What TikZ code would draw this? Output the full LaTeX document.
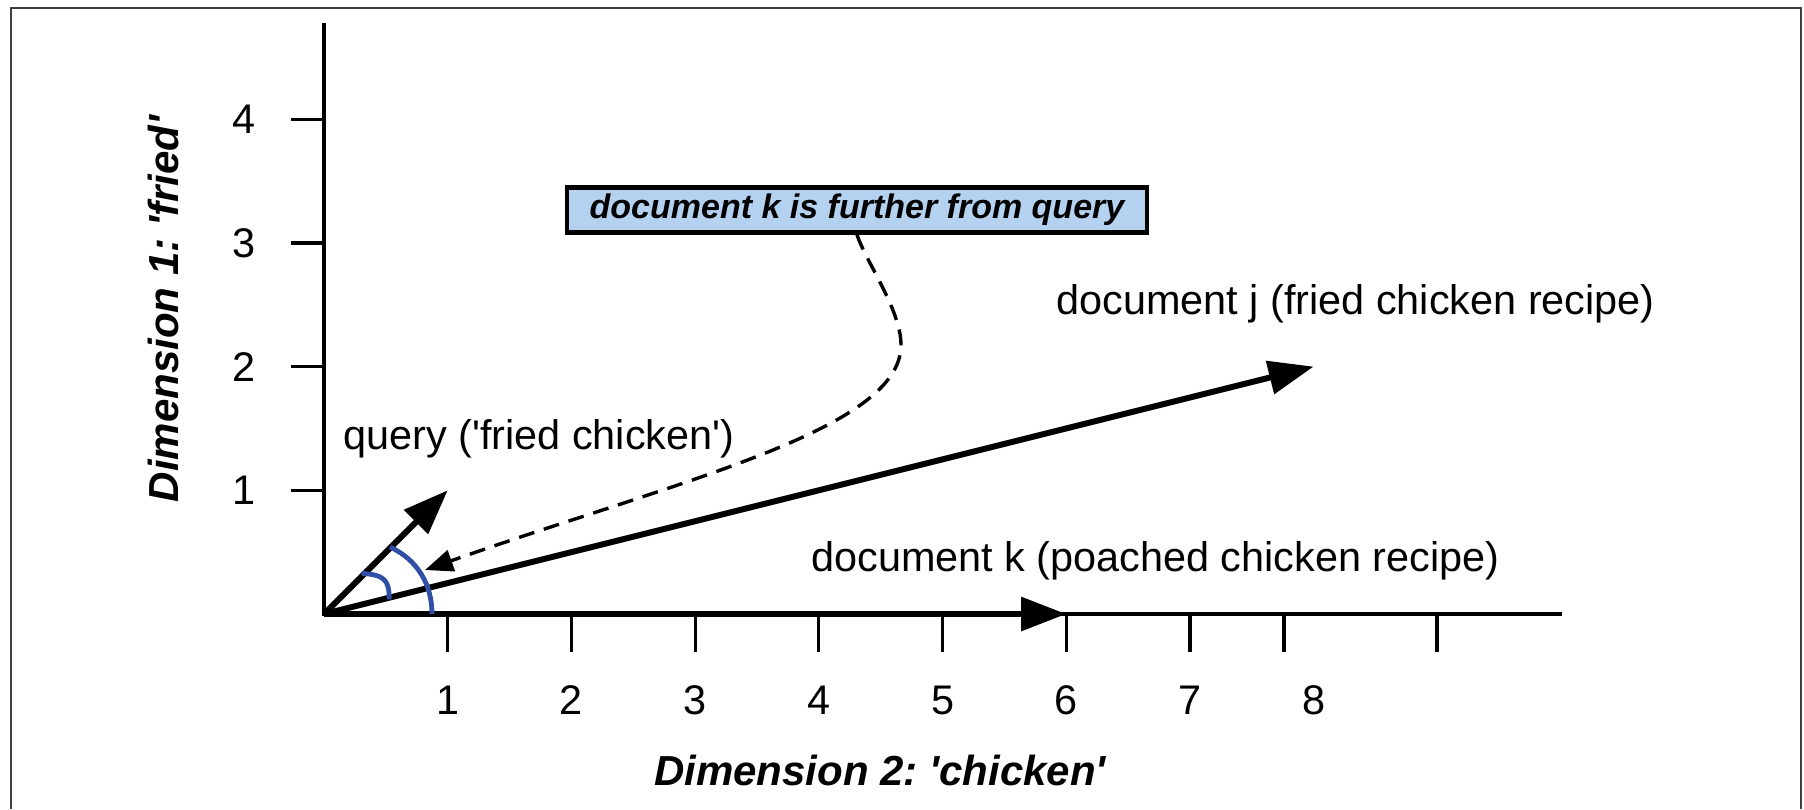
\documentclass[tikz,border=0pt]{standalone}
\usepackage{fontspec}
\setmainfont{Liberation Sans}[Ligatures=TeXOff]
\usetikzlibrary{arrows.meta}
\definecolor{boxblue}{RGB}{180,210,240}
\definecolor{arcblue}{RGB}{48,80,168}
\definecolor{framegray}{RGB}{64,64,64}
\begin{document}
\frenchspacing
\begin{tikzpicture}[x=0.5pt,y=-0.5pt,
  lbl/.style={font=\fontsize{20.7}{24}\selectfont, inner sep=0pt},
  axisline/.style={line width=2.3pt},
  vec/.style={line width=3pt, -{Triangle[length=22.5pt,width=16.5pt]}},
  tickline/.style={line width=1.6pt},
  angarc/.style={arcblue, line width=2.4pt},
  notebox/.style={draw, line width=2.2pt, fill=boxblue, font=\fontsize{17}{20}\selectfont\bfseries\itshape, minimum width=290pt, minimum height=22.5pt, inner sep=0pt},
  dimlbl/.style={font=\fontsize{21}{24}\selectfont\bfseries\itshape, inner sep=0pt},
  pointer/.style={line width=1.7pt, dash pattern=on 8pt off 5pt, -{Triangle[length=14pt,width=11pt]}}]
\useasboundingbox (0,0) rectangle (1804,809);
% frame
\draw[framegray, line width=1pt] (11,809) -- (11,8) -- (1801,8) -- (1801,809);
% coordinates
\coordinate (O) at (324,614);
\coordinate (ytop) at (324,23);
\coordinate (xend) at (1562,614);
\coordinate (q) at (447.7,490.3);
\coordinate (j) at (1313.6,366.6);
\coordinate (k) at (1066.2,614);
% axes
\draw[axisline] (ytop) -- (O) -- (xend);
% x ticks
\foreach \x/\n in {447.7/x1,571.4/x2,695.1/x3,818.8/x4,942.5/x5,1066.2/x6,1189.9/x7,1284/x8,1437/x9}
  \draw[tickline] (\x,614) coordinate (\n a) -- (\x,652) coordinate (\n b);
\foreach \x/\t in {447.7/1,571.4/2,695.1/3,818.8/4,942.5/5,1066.2/6,1189.9/7,1313.6/8}
  \node[lbl] (xl\t) at (\x,700) {\t};
% y ticks
\foreach \y/\t in {490.3/1,366.6/2,242.9/3,119.2/4}{
  \draw[tickline] (324,\y) coordinate (yt\t a) -- (291,\y) coordinate (yt\t b);
  \node[lbl] (yl\t) at (244,\y) {\t};
}
% axis titles
\node[dimlbl] (dim2) at (880,770) {Dimension 2: 'chicken'};
\node[dimlbl, rotate=90] (dim1) at (163,309) {Dimension 1: 'fried'};
% vectors
\draw[vec] (O) -- (k);
\draw[vec] (O) -- (j);
\draw[vec] (O) -- (q);
% angle arcs
\draw[angarc] (361.7,573.3) .. controls (385,575) and (389,580) .. (389.3,599.3);
\draw[angarc] (390,547) .. controls (418,560) and (432,585) .. (432,614);
% labels
\node[lbl, anchor=base west] (ql) at (343,449) {query ('fried chicken')};
\node[lbl, anchor=base west] (jl) at (1056,314) {document j (fried chicken recipe)};
\node[lbl, anchor=base west] (kl) at (811,571) {document k (poached chicken recipe)};
% note
\node[notebox] (note) at (857,210) {document k is further from query};
\coordinate (bulge) at (901,345);
\coordinate (dtip) at (425,570);
\draw[pointer] (note.south) .. controls (866,262) and (901,310) .. (bulge)
   .. controls (901,430) and (680,480) .. (dtip);
\end{tikzpicture}
\end{document}
